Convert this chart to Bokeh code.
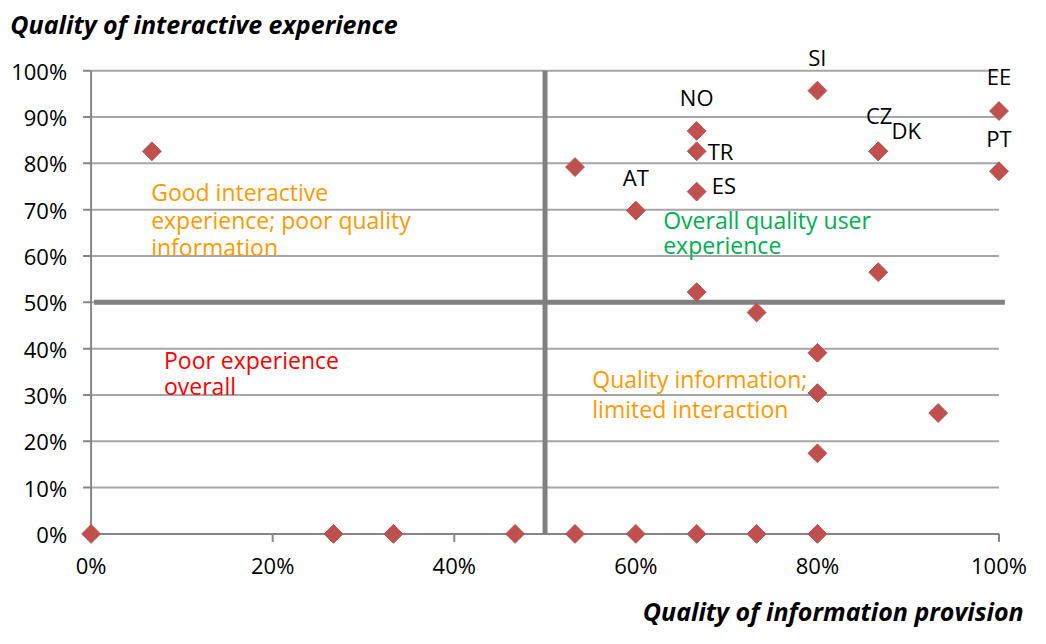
from bokeh.plotting import figure
from bokeh.models import Range1d, FixedTicker, NumeralTickFormatter, ColumnDataSource
from bokeh.core.properties import value
from bokeh.embed import file_html
from bokeh.resources import INLINE
import numpy as np

# ---- data ----
info_quality = [0.0, 0.267, 0.333, 0.467, 0.533, 0.600, 0.667, 0.733, 0.800,
                0.067, 0.533, 0.600, 0.667, 0.667, 0.667, 0.667, 0.733,
                0.800, 0.800, 0.800, 0.800, 0.867, 0.867, 0.867, 0.933, 1.000, 1.000]
interactive_quality = [0.0, 0.0, 0.0, 0.0, 0.0, 0.0, 0.0, 0.0, 0.0,
                       0.826, 0.792, 0.698, 0.870, 0.826, 0.739, 0.522, 0.478,
                       0.957, 0.391, 0.304, 0.174, 0.826, 0.826, 0.565, 0.261, 0.913, 0.783]
country = ["", "", "", "", "", "", "", "", "",
           "", "", "AT", "NO", "TR", "ES", "", "",
           "SI", "", "", "", "CZ", "DK", "", "", "EE", "PT"]

y_ticks = [0.0, 0.1, 0.2, 0.3, 0.4, 0.5, 0.6, 0.7, 0.8, 0.9, 1.0]
x_ticks = [0.0, 0.2, 0.4, 0.6, 0.8, 1.0]

x_title = "Quality of information provision"
y_title = "Quality of interactive experience"

quadrant_lines = [
    ("Good interactive", "#FF9900"),
    ("experience; poor quality", "#FF9900"),
    ("information", "#FF9900"),
    ("Overall quality user", "#00B050"),
    ("experience", "#00B050"),
    ("Poor experience", "#FF0000"),
    ("overall", "#FF0000"),
    ("Quality information;", "#FF9900"),
    ("limited interaction", "#FF9900"),
]

# ---- layout / style ----
W, H = 1030, 628            # figure size
RW, RH = 1046, 644          # reference picture size
RX0, RX1 = 92, 1014         # reference pixel of 0 and 1 on x
RY1, RY0 = 72, 547          # reference pixel of 1 and 0 on y
FONT = "Open Sans"


def fx(px):  # reference pixel -> data x
    return (px - RX0) / float(RX1 - RX0)


def fy(py):  # reference pixel (from top) -> data y
    return (RY0 - py) / float(RY0 - RY1)


PX_X = (RX1 - RX0) * W / RW   # figure pixels per unit
PX_Y = (RY0 - RY1) * H / RH

p = figure(width=W, height=H, output_backend="svg", toolbar_location=None, title=None,
           x_range=Range1d(fx(0), fx(RW)), y_range=Range1d(fy(RH), fy(0)),
           min_border=0)
p.outline_line_color = None
p.xgrid.visible = False
p.ygrid.visible = False

for ax, ticks in ((p.yaxis, y_ticks), (p.xaxis, x_ticks)):
    ax.fixed_location = 0
    ax.ticker = FixedTicker(ticks=ticks)
    ax.formatter = NumeralTickFormatter(format="0%")
    ax.axis_line_color = None
    ax.major_tick_line_color = None
    ax.minor_tick_line_color = None
    ax.major_tick_out = 0
    ax.major_tick_in = 0
    ax.major_label_text_font = FONT
    ax.major_label_text_font_size = "22px"
    ax.major_label_text_color = "#000000"
p.yaxis.major_label_standoff = 24
p.xaxis.major_label_standoff = 16

# gridlines (between 0 and 1 only)
gy = [t for t in y_ticks if t > 0]
p.segment(x0=[0] * len(gy), x1=[1] * len(gy), y0=gy, y1=gy, line_color="#A6A6A6", line_width=2)
# axis lines
p.segment(x0=[0, 0], y0=[0, 0], x1=[1, 0], y1=[0, 1], line_color="#868686", line_width=2)
# tick marks
p.segment(x0=[-8 / PX_X] * len(y_ticks), x1=[0] * len(y_ticks), y0=y_ticks, y1=y_ticks,
          line_color="#868686", line_width=2)
p.segment(x0=x_ticks, x1=x_ticks, y0=[0] * len(x_ticks), y1=[-8 / PX_Y] * len(x_ticks),
          line_color="#868686", line_width=2)

# quadrant dividers
p.segment(x0=[0.5, fx(95)], y0=[0, 0.5], x1=[0.5, fx(1020)], y1=[1, 0.5],
          line_color="#808080", line_width=5)

# points
src = ColumnDataSource(dict(x=info_quality, y=interactive_quality, c=country))
p.scatter("x", "y", source=src, marker="square", size=13.3, angle=np.pi / 4,
          fill_color="#C0504D", line_color="#C0504D")

# country labels (offset in pixels from their point)
offsets = {"SI": (0, -34, "center"), "NO": (0, -34, "center"), "TR": (11, 0, "left"),
           "AT": (0, -34, "center"), "ES": (15, -7, "left"), "CZ": (1, -36, "center"),
           "DK": (28, -21, "center"), "EE": (0, -35, "center"), "PT": (0, -33, "center")}
for xi, yi, c in zip(info_quality, interactive_quality, country):
    if not c:
        continue
    dx, dy, al = offsets[c]
    p.text(x=[xi], y=[yi], text=[c], x_offset=dx, y_offset=dy, text_align=al,
           text_baseline="middle", text_font=value(FONT), text_font_size="22px",
           text_color="#000000")

# quadrant annotations (reference-pixel positions)
q_pos = [(153, 196), (153, 225), (153, 253), (673, 225), (673, 251),
         (166, 369), (166, 395), (601, 388), (601, 419)]
for (txt, col), (sx, sy) in zip(quadrant_lines, q_pos):
    p.text(x=[fx(sx)], y=[fy(sy)], text=[txt], text_align="left",
           text_baseline="middle", text_font=value(FONT), text_font_size="23px",
           text_color=col)

# axis titles
p.text(x=[fx(10)], y=[fy(24)], text=[y_title], text_align="left", text_baseline="middle",
       text_font=value(FONT), text_font_size="25px", text_font_style="bold italic",
       text_color="#000000")
p.text(x=[fx(1039)], y=[fy(626)], text=[x_title], text_align="right", text_baseline="middle",
       text_font=value(FONT), text_font_size="25px", text_font_style="bold italic",
       text_color="#000000")

open("out.html", "w").write(file_html(p, INLINE))
